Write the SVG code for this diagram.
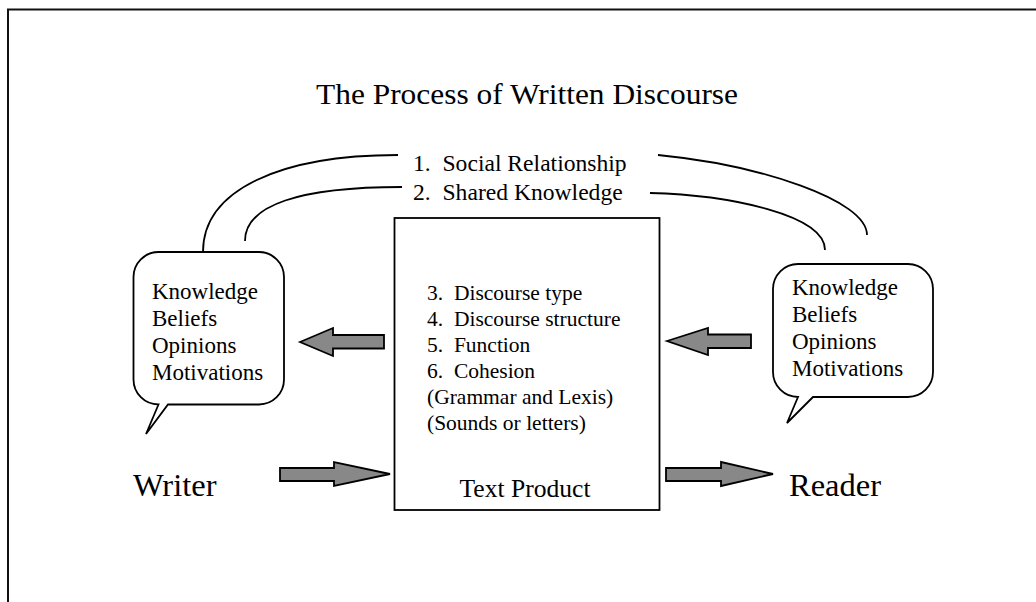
<svg xmlns="http://www.w3.org/2000/svg" width="1036" height="602" viewBox="0 0 1036 602">
<style>
.t{font-family:"Liberation Serif","Times New Roman",serif;fill:#000}
.ln{fill:none;stroke:#000;stroke-width:1.8}
.shape{fill:#fff;stroke:#000;stroke-width:1.8}
.arr{fill:#888;stroke:#000;stroke-width:1.8;stroke-linejoin:miter}
</style>
<rect width="1036" height="602" fill="#fff"/>
<g id="frame">
<path d="M8,602 V9.5 H1036" fill="none" stroke="#111" stroke-width="2"/>
</g>
<g id="title">
<text class="t" x="527" y="104" font-size="29" text-anchor="middle" textLength="422" lengthAdjust="spacingAndGlyphs">The Process of Written Discourse</text>
</g>
<g id="connectors">
<path class="ln" d="M203,252 C203,190 280,155 398,155"/>
<path class="ln" d="M245,241 C245,205 300,187 402,187"/>
<path class="ln" d="M658,155 C760,165 867,200 867,235"/>
<path class="ln" d="M650,193 C730,195 825,215 825,250"/>
<polygon class="arr" points="300,342 333,328 333,335 384,335 384,348.5 333,348.5 333,356"/>
<polygon class="arr" points="667,341 708,328 708,334.5 751,334.5 751,348 708,348 708,355"/>
<polygon class="arr" points="390,474 334,462 334,468 280,468 280,481 334,481 334,486"/>
<polygon class="arr" points="773,474 721,462 721,468 666,468 666,481 721,481 721,486"/>
</g>
<g id="shared">
<text class="t" x="413" y="171" font-size="23.6" xml:space="preserve">1.  Social Relationship</text>
<text class="t" x="413" y="200" font-size="23.6" xml:space="preserve">2.  Shared Knowledge</text>
</g>
<g id="writer-bubble">
<path class="shape" d="M158.5,252 H259 A25,25 0 0 1 284,277 V379.5 A25,25 0 0 1 259,404.5 H168 L146,434 L158.5,404.5 A25,25 0 0 1 133.5,379.5 V277 A25,25 0 0 1 158.5,252 Z"/>
<text class="t" font-size="23" x="152" y="299">Knowledge</text>
<text class="t" font-size="23" x="152" y="326">Beliefs</text>
<text class="t" font-size="23" x="152" y="353">Opinions</text>
<text class="t" font-size="23" x="152" y="380">Motivations</text>
</g>
<g id="reader-bubble">
<path class="shape" d="M798,264 H908 A25,25 0 0 1 933,289 V372 A25,25 0 0 1 908,397 H813 L787,423 L798,397 A25,25 0 0 1 773,372 V289 A25,25 0 0 1 798,264 Z"/>
<text class="t" font-size="23" x="792" y="295">Knowledge</text>
<text class="t" font-size="23" x="792" y="322">Beliefs</text>
<text class="t" font-size="23" x="792" y="349">Opinions</text>
<text class="t" font-size="23" x="792" y="376">Motivations</text>
</g>
<g id="text-product">
<rect class="shape" x="394.5" y="218" width="265" height="292"/>
<text class="t" font-size="21.5" x="427" y="300" xml:space="preserve">3.  Discourse type</text>
<text class="t" font-size="21.5" x="427" y="326" xml:space="preserve">4.  Discourse structure</text>
<text class="t" font-size="21.5" x="427" y="352" xml:space="preserve">5.  Function</text>
<text class="t" font-size="21.5" x="427" y="378" xml:space="preserve">6.  Cohesion</text>
<text class="t" font-size="21.5" x="427" y="404">(Grammar and Lexis)</text>
<text class="t" font-size="21.5" x="427" y="430">(Sounds or letters)</text>
<text class="t" font-size="25.6" x="525" y="497" text-anchor="middle">Text Product</text>
</g>
<g id="writer">
<text class="t" font-size="32.5" x="133" y="496">Writer</text>
</g>
<g id="reader">
<text class="t" font-size="32.5" x="789" y="496">Reader</text>
</g>
</svg>
